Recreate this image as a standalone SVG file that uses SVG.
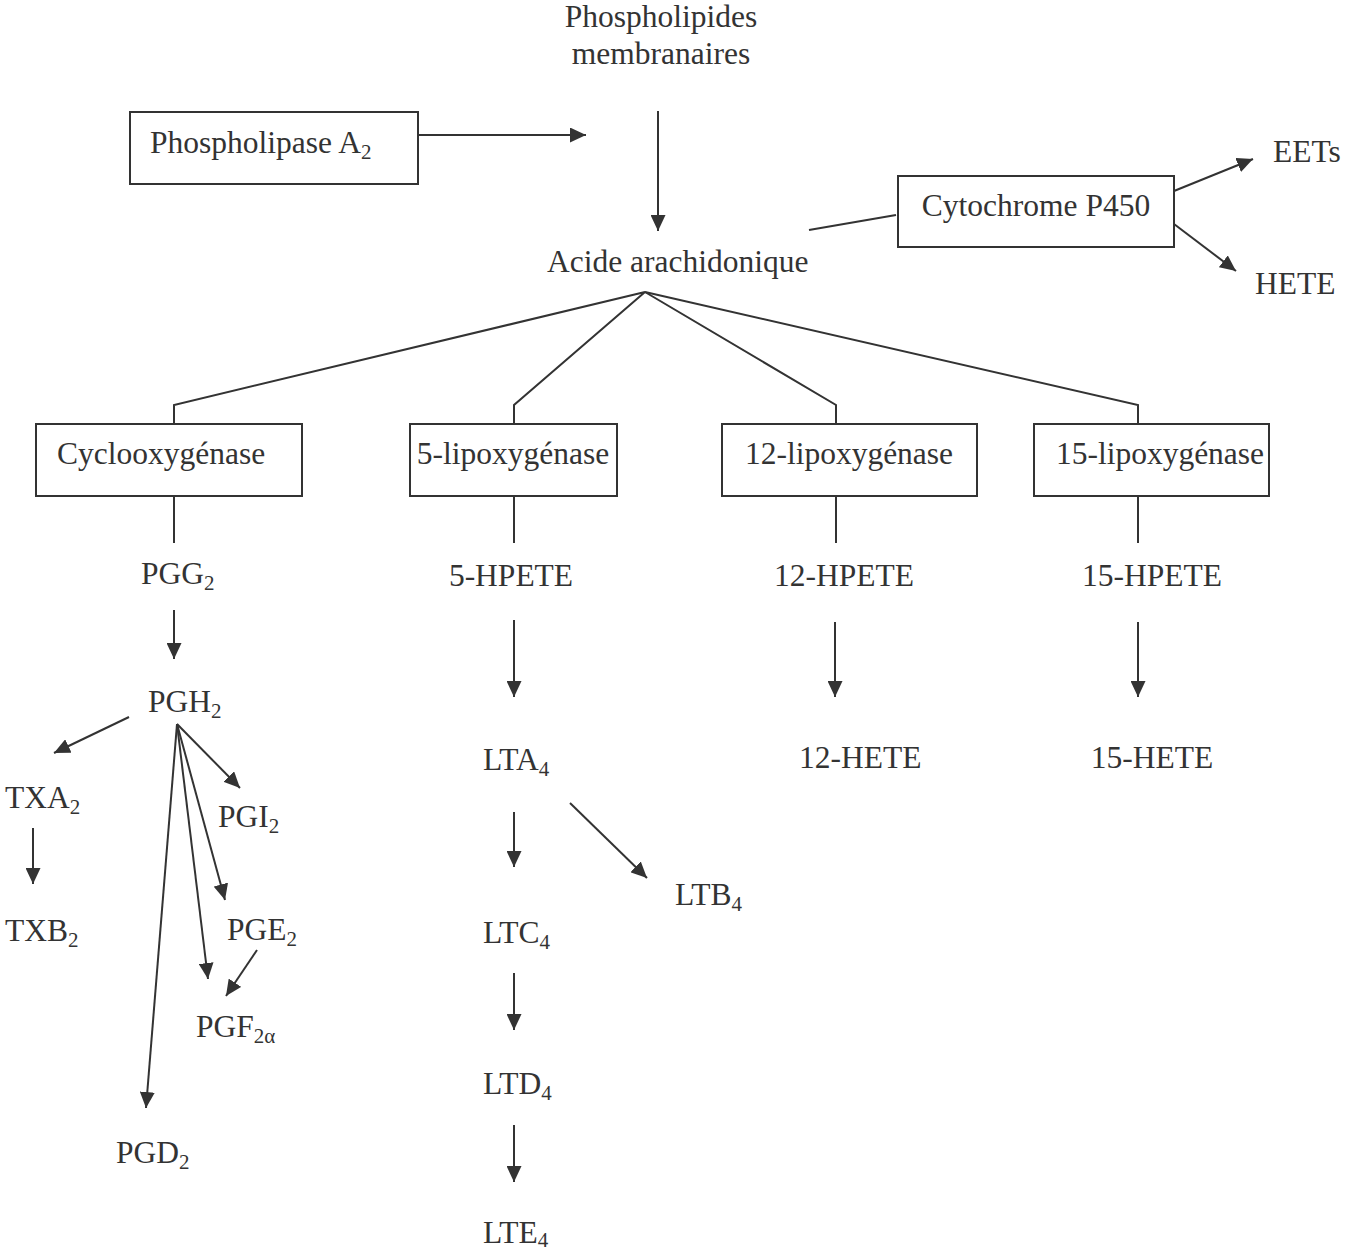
<svg xmlns="http://www.w3.org/2000/svg" width="1345" height="1251" viewBox="0 0 1345 1251">
<defs>
<marker id="ah" markerUnits="userSpaceOnUse" markerWidth="17" markerHeight="15" refX="16" refY="7.5" orient="auto">
<path d="M0,0 L16,7.5 L0,15 z" fill="#333"/>
</marker>
<style>
text{font-family:"Liberation Serif","Times New Roman",serif;font-size:31.5px;fill:#333}
.s{font-size:21px}
.box{fill:#fff;stroke:#333;stroke-width:2}
.ln{stroke:#333;stroke-width:2;fill:none}
.ar{stroke:#333;stroke-width:2;fill:none;marker-end:url(#ah)}
</style>
</defs>
<rect width="1345" height="1251" fill="#fff"/>

<g id="connectors">
<line class="ar" x1="418" y1="135" x2="586" y2="135"/>
<line class="ar" x1="658" y1="111" x2="658" y2="231"/>
<line class="ln" x1="809" y1="230" x2="896" y2="215"/>
<line class="ar" x1="1174" y1="191" x2="1253" y2="159"/>
<line class="ar" x1="1174" y1="224" x2="1236" y2="271"/>
<polyline class="ln" points="174,424 174,405 645,292 514,405 514,424"/>
<polyline class="ln" points="645,292 836,405 836,424"/>
<polyline class="ln" points="645,292 1138,405 1138,424"/>
<line class="ln" x1="174" y1="496" x2="174" y2="543"/>
<line class="ln" x1="514" y1="496" x2="514" y2="543"/>
<line class="ln" x1="836" y1="496" x2="836" y2="543"/>
<line class="ln" x1="1138" y1="496" x2="1138" y2="543"/>
<line class="ar" x1="174" y1="610" x2="174" y2="659"/>
<line class="ar" x1="129" y1="717" x2="54" y2="753"/>
<line class="ar" x1="33" y1="828" x2="33" y2="884"/>
<line class="ar" x1="177" y1="724" x2="240" y2="788"/>
<line class="ar" x1="177" y1="724" x2="225" y2="900"/>
<line class="ar" x1="177" y1="724" x2="208" y2="979"/>
<line class="ar" x1="177" y1="724" x2="146" y2="1108"/>
<line class="ar" x1="257" y1="950" x2="226" y2="996"/>
<line class="ar" x1="514" y1="620" x2="514" y2="697"/>
<line class="ar" x1="514" y1="812" x2="514" y2="867"/>
<line class="ar" x1="570" y1="803" x2="647" y2="878"/>
<line class="ar" x1="514" y1="973" x2="514" y2="1030"/>
<line class="ar" x1="514" y1="1125" x2="514" y2="1182"/>
<line class="ar" x1="835" y1="622" x2="835" y2="697"/>
<line class="ar" x1="1138" y1="622" x2="1138" y2="697"/>
</g>

<g id="phospholipides"><text x="661" y="27" text-anchor="middle">Phospholipides</text><text x="661" y="64" text-anchor="middle">membranaires</text></g>
<g id="pla2"><rect class="box" x="130" y="112" width="288" height="72"/><text x="150" y="153">Phospholipase A<tspan class="s" dy="6">2</tspan></text></g>
<g id="aa"><text x="547" y="272">Acide arachidonique</text></g>
<g id="cyp"><rect class="box" x="898" y="176" width="276" height="71"/><text x="1036" y="216" text-anchor="middle">Cytochrome P450</text></g>
<g id="eets"><text x="1273" y="162">EETs</text></g>
<g id="hete"><text x="1255" y="294">HETE</text></g>

<g id="cox"><rect class="box" x="36" y="424" width="266" height="72"/><text x="57" y="464">Cyclooxygénase</text></g>
<g id="lox5"><rect class="box" x="410" y="424" width="207" height="72"/><text x="513" y="464" text-anchor="middle">5-lipoxygénase</text></g>
<g id="lox12"><rect class="box" x="722" y="424" width="255" height="72"/><text x="849" y="464" text-anchor="middle">12-lipoxygénase</text></g>
<g id="lox15"><rect class="box" x="1034" y="424" width="235" height="72"/><text x="1160" y="464" text-anchor="middle">15-lipoxygénase</text></g>

<g id="pgg2"><text x="141" y="584">PGG<tspan class="s" dy="6">2</tspan></text></g>
<g id="pgh2"><text x="148" y="712">PGH<tspan class="s" dy="6">2</tspan></text></g>
<g id="txa2"><text x="5" y="808">TXA<tspan class="s" dy="6">2</tspan></text></g>
<g id="txb2"><text x="5" y="941">TXB<tspan class="s" dy="6">2</tspan></text></g>
<g id="pgi2"><text x="218" y="827">PGI<tspan class="s" dy="6">2</tspan></text></g>
<g id="pge2"><text x="227" y="940">PGE<tspan class="s" dy="6">2</tspan></text></g>
<g id="pgf2a"><text x="196" y="1037">PGF<tspan class="s" dy="6">2α</tspan></text></g>
<g id="pgd2"><text x="116" y="1163">PGD<tspan class="s" dy="6">2</tspan></text></g>

<g id="hpete5"><text x="511" y="586" text-anchor="middle">5-HPETE</text></g>
<g id="lta4"><text x="483" y="770">LTA<tspan class="s" dy="6">4</tspan></text></g>
<g id="ltb4"><text x="675" y="905">LTB<tspan class="s" dy="6">4</tspan></text></g>
<g id="ltc4"><text x="483" y="943">LTC<tspan class="s" dy="6">4</tspan></text></g>
<g id="ltd4"><text x="483" y="1094">LTD<tspan class="s" dy="6">4</tspan></text></g>
<g id="lte4"><text x="483" y="1243">LTE<tspan class="s" dy="4">4</tspan></text></g>

<g id="hpete12"><text x="774" y="586">12-HPETE</text></g>
<g id="hete12"><text x="799" y="768">12-HETE</text></g>
<g id="hpete15"><text x="1152" y="586" text-anchor="middle">15-HPETE</text></g>
<g id="hete15"><text x="1152" y="768" text-anchor="middle">15-HETE</text></g>
</svg>
